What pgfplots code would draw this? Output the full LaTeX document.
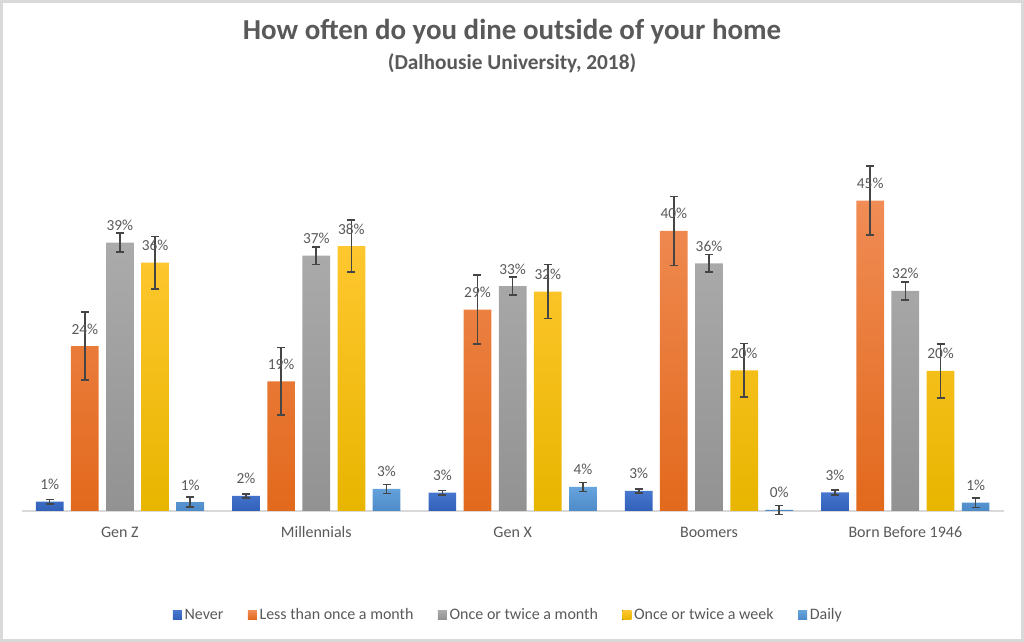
\documentclass[border=0pt]{standalone}
\usepackage{pgfplots}
\pgfplotsset{compat=1.18}
\usepackage{pgfplotstable}
\usepackage{fontspec}
\setmainfont{Carlito}
\definecolor{txt}{HTML}{595959}
\definecolor{errc}{HTML}{454545}
\definecolor{framec}{HTML}{D9D9D9}
\definecolor{axc}{HTML}{D9D9D9}
\definecolor{nT}{HTML}{4777CE}\definecolor{nB}{HTML}{3060B8}
\definecolor{lT}{HTML}{F08C55}\definecolor{lB}{HTML}{E2691C}
\definecolor{mT}{HTML}{ABABAB}\definecolor{mB}{HTML}{929292}
\definecolor{wT}{HTML}{FFC72F}\definecolor{wB}{HTML}{E8B500}
\definecolor{dT}{HTML}{66A4DD}\definecolor{dB}{HTML}{4D8AC8}

\pgfplotstableread{
x never neverE nL less lessE lL month monthE mL week weekE wL daily dailyE dL
0 1.35 0.30 1 23.9 4.9 24 38.9 1.4 39 36.0 3.8 36 1.30 0.70 1
1 2.20 0.30 2 18.8 4.9 19 37.0 1.3 37 38.4 3.8 38 3.20 0.65 3
2 2.65 0.35 3 29.2 5.0 29 32.6 1.3 33 31.8 3.9 32 3.50 0.65 4
3 2.90 0.30 3 40.6 5.0 40 35.9 1.3 36 20.4 3.9 20 0.15 0.65 0
4 2.70 0.35 3 45.0 5.0 45 31.9 1.3 32 20.3 3.9 20 1.20 0.70 1
}\data

\begin{document}
\begin{tikzpicture}
\useasboundingbox (0,0) rectangle (768pt,481.5pt);
\draw[framec, line width=1.9pt] (0.95pt,0.95pt) rectangle (767.05pt,480.55pt);
\node[text=txt, font=\fontsize{21.7}{25}\selectfont\bfseries] at (384pt,457.5pt) {How often do you dine outside of your home};
\node[text=txt, font=\fontsize{16}{19}\selectfont\bfseries] at (384pt,434.25pt) {(Dalhousie University, 2018)};
\begin{axis}[
  at={(16.3pt,98.25pt)}, anchor=south west,
  scale only axis, width=736.35pt, height=284.6pt,
  ybar, bar width=20.8pt,
  xmin=-0.5, xmax=4.5, ymin=0, ymax=55,
  enlargelimits=false, clip=false,
  axis y line=none, ytick=\empty,
  axis x line=bottom, axis line style={-, draw=axc, line width=0.8pt},
  xtick={0,1,2,3,4}, major tick length=0pt,
  xticklabels={Gen Z, Millennials, Gen X, Boomers, Born Before 1946},
  xticklabel style={anchor=base, yshift=-20.25pt, text=txt, font=\fontsize{12}{14}\selectfont},
  point meta=explicit symbolic,
  nodes near coords={\pgfplotspointmeta\%},
  every node near coord/.append style={anchor=base, yshift=9pt, text=txt, font=\fontsize{11.5}{14}\selectfont, inner sep=0pt},
  every axis plot/.append style={draw=none,
    error bars/y dir=both, error bars/y explicit,
    error bars/error bar style={draw=errc, line width=1.2pt},
    error bars/error mark options={rotate=90, mark size=3pt, draw=errc, line width=1.2pt}},
  legend columns=5,
  legend style={at={(0.496,-0.274)}, anchor=center, draw=none, fill=none,
    text=txt, font=\fontsize{12}{14}\selectfont,
    /tikz/every even column/.append style={column sep=16.3pt}},
  legend image code/.code={\fill[#1] (0pt,-3.4pt) rectangle (6.8pt,3.4pt);},
]
\addplot[top color=nT, bottom color=nB, bar shift=-52.7pt] table[x=x, y=never, y error=neverE, meta=nL] {\data};
\addplot[top color=lT, bottom color=lB, bar shift=-26.36pt] table[x=x, y=less, y error=lessE, meta=lL] {\data};
\addplot[top color=mT, bottom color=mB, bar shift=0pt] table[x=x, y=month, y error=monthE, meta=mL] {\data};
\addplot[top color=wT, bottom color=wB, bar shift=26.36pt] table[x=x, y=week, y error=weekE, meta=wL] {\data};
\addplot[top color=dT, bottom color=dB, bar shift=52.7pt] table[x=x, y=daily, y error=dailyE, meta=dL] {\data};
\legend{Never, Less than once a month, Once or twice a month, Once or twice a week, Daily}
\end{axis}
\end{tikzpicture}
\end{document}
